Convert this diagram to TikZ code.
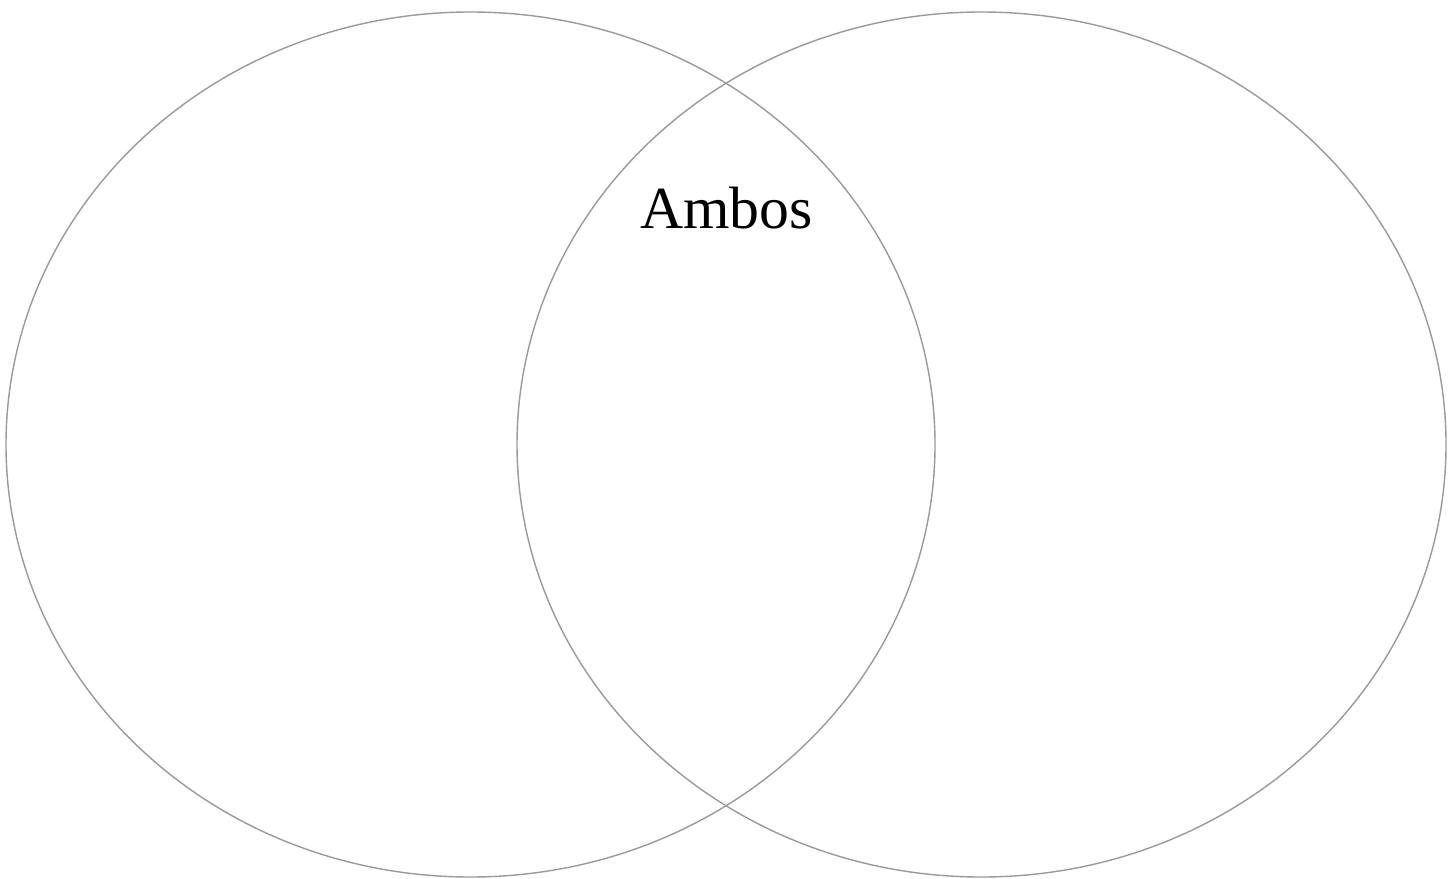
\documentclass[tikz,border=0pt]{standalone}
\usepackage{fontspec}
\setmainfont{Liberation Serif}
\usepackage{xcolor}
\definecolor{cLine}{HTML}{9A9A9A}
\usetikzlibrary{positioning,shapes.geometric}
\tikzset{
  set-ellipse/.style={draw=cLine,line width=0.4pt,ellipse,inner sep=0pt,outer sep=0pt,
    minimum width=9.29cm,minimum height=8.65cm},
  set-label/.style={font=\fontsize{17}{20}\selectfont,inner sep=0pt,anchor=base},
}
\begin{document}
\begin{tikzpicture}
  \useasboundingbox (0,0) rectangle (14.56,-8.78);
  \node[set-ellipse] (left) at (4.705,-4.445) {};
  \node[set-ellipse] (right) at (9.815,-4.445) {};
  \node[set-label] (both) at (7.265,-2.29) {Ambos};
\end{tikzpicture}
\end{document}
